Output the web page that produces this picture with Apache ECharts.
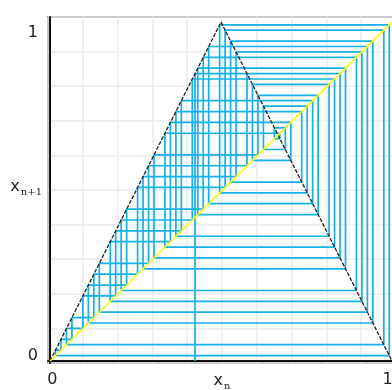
<!DOCTYPE html>
<html>
<head>
<meta charset="utf-8">
<script src="https://cdn.jsdelivr.net/npm/echarts@6/dist/echarts.min.js"></script>
<style>
  html, body { margin: 0; padding: 0; background: #fff; }
  #chart { width: 392px; height: 390px; }
</style>
</head>
<body>
<div id="chart"></div>
<script>
const orbit = [0.424, 0.848, 0.304, 0.608, 0.784, 0.432, 0.864, 0.272, 0.544, 0.912,
  0.176, 0.352, 0.704, 0.592, 0.816, 0.368, 0.736, 0.528, 0.944, 0.112,
  0.224, 0.448, 0.896, 0.208, 0.416, 0.832, 0.336, 0.672, 0.656, 0.688,
  0.624, 0.752, 0.496, 0.992, 0.016, 0.032, 0.064, 0.128, 0.256, 0.512,
  0.976, 0.048, 0.096, 0.192, 0.384, 0.768, 0.464, 0.928, 0.144, 0.288,
  0.576, 0.848];
const tentX = [0, 0.5, 1];
const tentY = [0, 1, 0];
const diagX = [0, 1];
const diagY = [0, 1];
const xLabelValues = [0.007, 0.987];
const yLabelValues = [0.015, 0.968];
const tickLabels = ['0', '1'];

const xMin = -0.006, xMax = 1.0117;
const yMin = -0.006, yMax = 1.015;

// cobweb path: up from (x0, 0), then vertical / horizontal steps
const cobweb = [[orbit[0], 0]];
for (let i = 0; i < orbit.length - 1; i++) {
  cobweb.push([orbit[i], orbit[i + 1]]);
  cobweb.push([orbit[i + 1], orbit[i + 1]]);
}
const tent = tentX.map((x, i) => [x, tentY[i]]);
const diag = diagX.map((x, i) => [x, diagY[i]]);

const chart = echarts.init(document.getElementById('chart'));
chart.setOption({
  animation: false,
  grid: {
    left: 48, right: -4, top: 17, bottom: 27,
    containLabel: false,
    outerBoundsMode: 'none',
    show: true,
    borderColor: '#3a3a3a',
    borderWidth: 1.5
  },
  xAxis: {
    type: 'value',
    min: xMin,
    max: xMax,
    interval: (xMax - xMin) / 10,
    name: 'x{s|n}',
    nameLocation: 'middle',
    nameGap: 8,
    nameMoveOverlap: false,
    nameTextStyle: {
      color: '#222', fontSize: 16, fontFamily: 'DejaVu Sans', verticalAlign: 'top',
      rich: { s: { fontSize: 10, fontFamily: 'DejaVu Serif', color: '#222', padding: [10, 0, 0, 1] } }
    },
    axisLine: { show: true, lineStyle: { color: '#111', width: 2 } },
    axisTick: { show: false },
    axisLabel: {
      customValues: xLabelValues,
      formatter: v => (v < 0.5 ? tickLabels[0] : tickLabels[1]),
      color: '#222', fontSize: 16, fontFamily: 'DejaVu Sans', margin: 9
    },
    splitLine: { show: true, lineStyle: { color: '#ebebeb', width: 1.5 } }
  },
  yAxis: {
    type: 'value',
    min: yMin,
    max: yMax,
    interval: (yMax - yMin) / 10,
    name: 'x{s|n+1}',
    nameLocation: 'middle',
    nameRotate: 0,
    nameGap: 6,
    nameMoveOverlap: false,
    nameTextStyle: {
      color: '#222', fontSize: 16, fontFamily: 'DejaVu Sans', align: 'right', padding: [0, 0, 6, 0],
      rich: { s: { fontSize: 10, fontFamily: 'DejaVu Serif', color: '#222', padding: [10, 0, 0, 1] } }
    },
    axisLine: { show: true, lineStyle: { color: '#111', width: 2 } },
    axisTick: { show: false },
    axisLabel: {
      customValues: yLabelValues,
      formatter: v => (v < 0.5 ? tickLabels[0] : tickLabels[1]),
      color: '#222', fontSize: 16, fontFamily: 'DejaVu Sans', margin: 10
    },
    splitLine: { show: true, lineStyle: { color: '#ebebeb', width: 1.5 } }
  },
  series: [
    {
      type: 'line',
      data: cobweb,
      showSymbol: false,
      lineStyle: { color: '#14b1ea', width: 1.7 },
      z: 2
    },
    {
      type: 'line',
      data: tent,
      showSymbol: false,
      lineStyle: { color: '#222', width: 1.3, type: [4, 1.5] },
      z: 3
    },
    {
      type: 'line',
      data: diag,
      showSymbol: false,
      lineStyle: { color: '#ffff00', width: 1.5 },
      z: 4
    }
  ]
});
</script>
</body>
</html>
